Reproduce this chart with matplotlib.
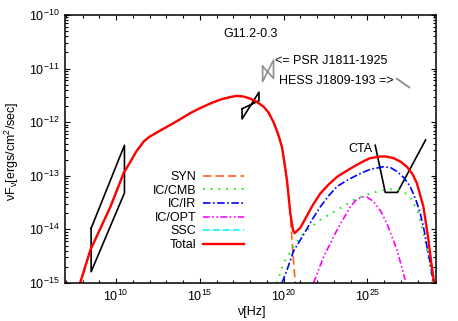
import numpy as np
import matplotlib
matplotlib.use('Agg')
from matplotlib import pyplot as plt
import matplotlib.ticker as mticker

plt.rcParams['font.family'] = ['Liberation Sans', 'DejaVu Sans']
plt.rcParams['mathtext.fontset'] = 'custom'
plt.rcParams['mathtext.rm'] = 'Liberation Sans'
plt.rcParams['mathtext.it'] = 'Liberation Sans:italic'
plt.rcParams['axes.unicode_minus'] = False

FS = 9

# values, stored as log10(nu [Hz]) and log10(nuFnu)
total_lx = [7.87, 8.47, 9.66, 10.45, 10.85, 11.2, 11.65, 12.0, 12.5, 13.24, 13.8, 14.43,
            15.0, 15.63, 16.2, 16.82, 17.2, 17.6, 18.01, 18.4, 18.81, 19.1, 19.40, 19.65,
            19.90, 20.05, 20.20, 20.30, 20.40, 20.56, 20.66, 21.0, 21.3, 21.7, 22.19, 22.7,
            23.19, 23.7, 24.18, 24.7, 25.17, 25.77, 26.1, 26.56, 27.0, 27.36, 27.7, 27.96,
            28.35, 28.65, 28.85, 28.99]
total_ly = [-14.98, -14.38, -13.58, -12.95, -12.74, -12.55, -12.36, -12.27, -12.18, -12.05,
            -11.95, -11.83, -11.74, -11.65, -11.58, -11.53, -11.51, -11.52, -11.56, -11.62,
            -11.71, -11.82, -12.0, -12.2, -12.46, -12.75, -13.08, -13.38, -13.70, -14.01,
            -14.07, -13.97, -13.80, -13.57, -13.33, -13.16, -13.02, -12.92, -12.83, -12.74,
            -12.67, -12.64, -12.64, -12.67, -12.74, -12.83, -12.97, -13.14, -13.58, -14.20,
            -14.70, -15.0]

syn_lx = [7.80, 8.47, 9.66, 10.45, 10.85, 11.2, 11.65, 12.0, 12.5, 13.24, 13.8, 14.43,
          15.0, 15.63, 16.2, 16.82, 17.2, 17.6, 18.01, 18.4, 18.81, 19.1, 19.40, 19.65,
          19.90, 20.05, 20.20, 20.30, 20.40, 20.50, 20.60, 20.70, 20.76]
syn_ly = [-15.1, -14.38, -13.58, -12.95, -12.74, -12.55, -12.36, -12.27, -12.18, -12.05,
          -11.95, -11.83, -11.74, -11.65, -11.58, -11.53, -11.51, -11.52, -11.56, -11.62,
          -11.71, -11.82, -12.0, -12.2, -12.46, -12.75, -13.08, -13.38, -13.70, -14.20,
          -14.62, -15.0, -15.3]

cmb_lx = [19.6, 20.0, 20.60, 21.19, 22.19, 23.19, 24.18, 25.17, 26.17, 26.96, 27.56,
          28.06, 28.45, 28.75, 28.91]
cmb_ly = [-15.0, -14.63, -14.32, -14.07, -13.82, -13.64, -13.45, -13.33, -13.25, -13.26,
          -13.39, -13.70, -14.20, -14.70, -15.0]

ir_lx = [19.90, 20.20, 20.60, 21.19, 21.7, 22.19, 22.7, 23.19, 23.7, 24.18, 24.7, 25.17,
         25.97, 26.4, 26.77, 27.2, 27.56, 27.9, 28.16, 28.4, 28.56, 28.75, 28.85, 28.95]
ir_ly = [-15.0, -14.76, -14.40, -14.10, -13.82, -13.58, -13.37, -13.20, -13.10, -13.02,
         -12.94, -12.88, -12.83, -12.85, -12.92, -13.04, -13.20, -13.45, -13.70, -14.03,
         -14.32, -14.62, -14.82, -15.0]

opt_lx = [21.79, 22.39, 23.19, 23.98, 24.3, 24.68, 25.0, 25.37, 25.8, 26.17, 26.77, 27.26]
opt_ly = [-15.0, -14.51, -14.01, -13.58, -13.46, -13.39, -13.40, -13.48, -13.66, -13.89,
          -14.38, -14.94]

ssc_lx = [20.0, 30.0]
ssc_ly = [-16.0, -16.0]

# butterflies / sensitivity
radio_lx = [8.51, 8.51, 10.50, 10.50, 8.51]
radio_ly = [-13.98, -14.79, -13.32, -12.43, -13.98]
xray_lx = [17.52, 17.52, 18.53, 18.53, 17.52]
xray_ly = [-11.75, -11.94, -11.44, -11.60, -11.75]
psr_lx = [18.75, 18.75, 19.40, 19.40, 18.75]
psr_ly = [-10.96, -11.24, -10.84, -11.18, -10.96]
hess_lx = [26.77, 27.50]
hess_ly = [-11.19, -11.35]
cta_lx = [25.47, 26.07, 26.80, 28.48]
cta_ly = [-12.43, -13.31, -13.31, -12.33]


def v(a):
    return 10.0 ** np.array(a)


fig = plt.figure(figsize=(4.58, 3.21), dpi=100)
ax = fig.add_axes([65 / 458, 38 / 321, 371 / 458, 268 / 321])

ax.plot(v(radio_lx), v(radio_ly), color='black', lw=1.2)
ax.plot(v(xray_lx), v(xray_ly), color='black', lw=1.2)
ax.plot(v(psr_lx), v(psr_ly), color='#909090', lw=1.2)
ax.plot(v(hess_lx), v(hess_ly), color='#909090', lw=1.4)
ax.plot(v(cta_lx), v(cta_ly), color='black', lw=1.2)

ax.plot(v(syn_lx), v(syn_ly), color='#ff6020', lw=1.2, dashes=(5, 2.5), label='SYN')
ax.plot(v(cmb_lx), v(cmb_ly), color='#00ee00', lw=1.4, dashes=(0.8, 3.2), label='IC/CMB')
ax.plot(v(ir_lx), v(ir_ly), color='#0000ff', lw=1.2, dashes=(4.5, 1.5, 1, 1.5), label='IC/IR')
ax.plot(v(opt_lx), v(opt_ly), color='#ff00ff', lw=1.2, dashes=(4, 1.5, 1, 1.5, 1, 1.5),
        label='IC/OPT')
ax.plot(v(ssc_lx), v(ssc_ly), color='#00ffff', lw=1.2, dashes=(4, 2), label='SSC')
ax.plot(v(total_lx), v(total_ly), color='#ff0000', lw=1.7, label='Total')

ax.set_xscale('log')
ax.set_yscale('log')
ax.set_xlim(10 ** 6.95, 10 ** 29.1)
ax.set_ylim(1e-15, 1e-10)

ax.xaxis.set_major_locator(mticker.FixedLocator([1e10, 1e15, 1e20, 1e25]))
ax.xaxis.set_minor_locator(mticker.FixedLocator([10.0 ** k for k in range(7, 30)]))
ax.xaxis.set_minor_formatter(mticker.NullFormatter())
ax.yaxis.set_major_locator(mticker.FixedLocator([1e-15, 1e-14, 1e-13, 1e-12, 1e-11, 1e-10]))
ax.yaxis.set_minor_locator(mticker.LogLocator(base=10, subs=np.arange(2, 10), numticks=10))
ax.yaxis.set_minor_formatter(mticker.NullFormatter())
ax.tick_params(which='both', direction='in', top=True, right=True, labelsize=FS, width=0.8)
ax.tick_params(which='major', length=3.6, pad=4)
ax.tick_params(which='minor', length=2.0)
for s in ax.spines.values():
    s.set_linewidth(1.1)

ax.text(10 ** 18.03, 10 ** -10.35, 'G11.2-0.3', fontsize=FS, ha='center', va='center')
ax.text(10 ** 19.5, 10 ** -10.85, '<= PSR J1811-1925', fontsize=FS, ha='left', va='center')
ax.text(10 ** 19.75, 10 ** -11.24, 'HESS J1809-193 =>', fontsize=FS, ha='left', va='center')
ax.text(10 ** 25.3, 10 ** -12.50, 'CTA', fontsize=FS, ha='right', va='center')

ax.legend(loc='upper right', bbox_to_anchor=((244 - 65) / 371, (283 - 171) / 268),
          frameon=False, markerfirst=False, fontsize=FS, handlelength=3.3,
          handletextpad=0.5, labelspacing=0.13, borderpad=0, borderaxespad=0)

fig.text(12 / 458, 1 - 151 / 321, r'νF$_{\mathrm{ν}}$[ergs/cm$^{2}$/sec]', rotation=90,
         fontsize=FS, ha='center', va='center')
fig.text(251 / 458, 1 - 312 / 321, 'ν[Hz]', fontsize=FS, ha='center', va='center')

fig.savefig('out.png', dpi=100)
plt.close(fig)
